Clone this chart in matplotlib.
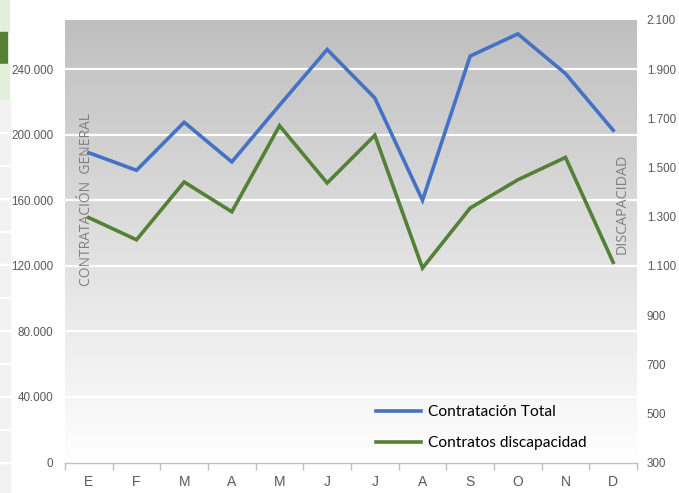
import numpy as np
import matplotlib.pyplot as plt
from matplotlib.patches import Rectangle

# Monthly data
meses = ["E", "F", "M", "A", "M", "J", "J", "A", "S", "O", "N", "D"]
contratacion_total = [189000, 178300, 207600, 183400, 218000, 252000,
                      222400, 160000, 248000, 261500, 237300, 202700]
contratos_discapacidad = [1296, 1206, 1441, 1320, 1670, 1437,
                          1631, 1091, 1335, 1450, 1541, 1114]
left_ticks = [0, 40000, 80000, 120000, 160000, 200000, 240000]
right_ticks = [300, 500, 700, 900, 1100, 1300, 1500, 1700, 1900, 2100]


def miles(v):
    # thousands separator with a dot, spanish style
    return f"{int(v):,}".replace(",", ".")


W, H = 679, 493
fig = plt.figure(figsize=(W / 100, H / 100), dpi=100)
fig.patch.set_facecolor("white")

# leftover bits of the spreadsheet on the left edge
fig.patches.append(Rectangle((0, 1 - 32 / H), 9 / W, 32 / H, transform=fig.transFigure,
                             color="#E2EFDA", zorder=0))
fig.patches.append(Rectangle((0, 1 - 64 / H), 7 / W, 32 / H, transform=fig.transFigure,
                             color="#548235", zorder=0))
fig.patches.append(Rectangle((0, 1 - 100 / H), 9 / W, 36 / H, transform=fig.transFigure,
                             color="#E2EFDA", zorder=0))
fig.patches.append(Rectangle((0, 0), 10 / W, 1 - 100 / H, transform=fig.transFigure,
                             color="#F2F2F2", zorder=0))
for yy in range(133, 493, 33):
    fig.patches.append(Rectangle((0, 1 - yy / H), 10 / W, 1.2 / H, transform=fig.transFigure,
                                 color="white", zorder=1))

ax = fig.add_axes([65 / W, 1 - 462.5 / H, 572 / W, 442.5 / H])
ax2 = ax.twinx()

x = np.arange(len(meses))
ymax = 270000

# gray-to-white background gradient (row 0 = top)
grad = np.linspace(0, 1, 256)
top = np.array([0.749, 0.749, 0.749])
bottom = np.array([1.0, 1.0, 1.0])
img = (top[None, :] + (bottom - top)[None, :] * grad[:, None]).reshape(256, 1, 3)
ax.imshow(img, aspect="auto", extent=(-0.5, 11.5, 0, ymax), zorder=0, origin="upper")

ax.plot(x, contratacion_total, color="#4472C4", lw=2.6, zorder=3,
        solid_joinstyle="miter")
ax2.plot(x, contratos_discapacidad, color="#538135", lw=2.6, zorder=3,
         solid_joinstyle="miter")

ax.set_xlim(-0.5, 11.5)
ax.set_ylim(0, ymax)
ax2.set_ylim(300, 2100)

ax.set_yticks(left_ticks)
ax.set_yticklabels([miles(v) for v in left_ticks])
ax2.set_yticks(right_ticks)
ax2.set_yticklabels([miles(v) for v in right_ticks])

ax.set_xticks(x)
ax.set_xticklabels(meses)
ax.set_xticks(np.arange(-0.5, 12, 1), minor=True)

ax.grid(axis="y", color="white", lw=1.6)
ax.set_axisbelow(True)

for lab in ax.get_yticklabels() + ax2.get_yticklabels():
    lab.set_fontfamily("Liberation Sans")
    lab.set_fontsize(8.4)
    lab.set_color("#595959")
for lab in ax.get_xticklabels():
    lab.set_fontfamily("Liberation Sans")
    lab.set_fontsize(10)
    lab.set_color("#595959")

ax.tick_params(axis="y", length=0, pad=8.5)
ax2.tick_params(axis="y", length=0, pad=7)
ax.tick_params(axis="x", which="major", length=0, pad=9)
ax.tick_params(axis="x", which="minor", length=5, color="#BFBFBF", width=1)

for a in (ax, ax2):
    for s in a.spines.values():
        s.set_visible(False)
ax.spines["bottom"].set_visible(True)
ax.spines["bottom"].set_color("#BFBFBF")
ax.spines["bottom"].set_linewidth(1)

# axis titles inside the plot area
ax.text(87 / W, 1 - 199 / H, "CONTRATACIÓN  GENERAL", transform=fig.transFigure,
        rotation=90, ha="center", va="center", color="#808080", fontsize=10,
        fontfamily="Open Sans")
ax.text(622 / W, 1 - 204 / H, "DISCAPACIDAD", transform=fig.transFigure,
        rotation=90, ha="center", va="center", color="#808080", fontsize=10.3,
        fontfamily="Open Sans")

h1 = ax.get_lines()[0]
h2 = ax2.get_lines()[0]
leg = ax2.legend([h1, h2], ["Contratación Total", "Contratos discapacidad"],
                 loc="upper left", bbox_to_anchor=(362 / W, 1 - 391 / H),
                 bbox_transform=fig.transFigure, frameon=False,
                 prop={"family": "Lato", "size": 11.2},
                 handlelength=2.9, handletextpad=0.45, labelspacing=1.1)

fig.savefig("out.png", dpi=100)
